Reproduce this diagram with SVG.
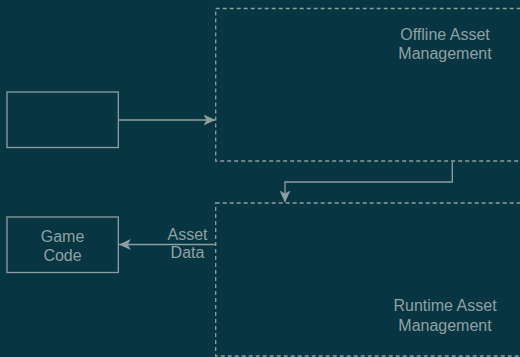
<svg xmlns="http://www.w3.org/2000/svg" width="520" height="357" viewBox="0 0 520 357">
  <style>
    .box { fill: none; stroke: #8d9fa1; stroke-width: 1.3; }
    .group { fill: none; stroke: #8d9fa1; stroke-width: 1.3; stroke-dasharray: 4 3; }
    .edge { fill: none; stroke: #8d9fa1; stroke-width: 1.3; }
    .label { font-family: "Liberation Sans", Arial, sans-serif; font-size: 16px; fill: #8fa1a3; text-anchor: middle; }
  </style>
  <defs>
    <marker id="arrow" viewBox="0 0 12 11" refX="11.5" refY="5.5" markerWidth="12" markerHeight="11" markerUnits="userSpaceOnUse" orient="auto">
      <path d="M0,0 L12,5.5 L0,11 L3,5.5 Z" fill="#8d9fa1"/>
    </marker>
  </defs>
  <rect width="520" height="357" fill="#083542"/>

  <g id="offline-asset-management">
    <rect class="group" x="215.7" y="8.5" width="320" height="152.5"/>
    <text class="label" x="445" y="40">Offline Asset</text>
    <text class="label" x="445" y="59">Management</text>
  </g>

  <g id="runtime-asset-management">
    <rect class="group" x="215.7" y="203" width="320" height="153"/>
    <text class="label" x="445" y="311">Runtime Asset</text>
    <text class="label" x="445" y="330.5">Management</text>
  </g>

  <g id="source-box">
    <rect class="box" x="7" y="92" width="111.3" height="55.5"/>
  </g>

  <g id="game-code">
    <rect class="box" x="7" y="217" width="111.3" height="55.5"/>
    <text class="label" x="62.5" y="241.5">Game</text>
    <text class="label" x="62.5" y="260.5">Code</text>
  </g>

  <g id="connectors">
    <path class="edge" d="M118.3,120 L215,120" marker-end="url(#arrow)"/>
    <path class="edge" d="M452.3,161 L452.3,182 L285,182 L285,202" marker-end="url(#arrow)"/>
    <path class="edge" d="M215.7,244.5 L119.3,244.5" marker-end="url(#arrow)"/>
    <text class="label" x="187.5" y="239.5">Asset</text>
    <text class="label" x="187.5" y="257.5">Data</text>
  </g>
</svg>
